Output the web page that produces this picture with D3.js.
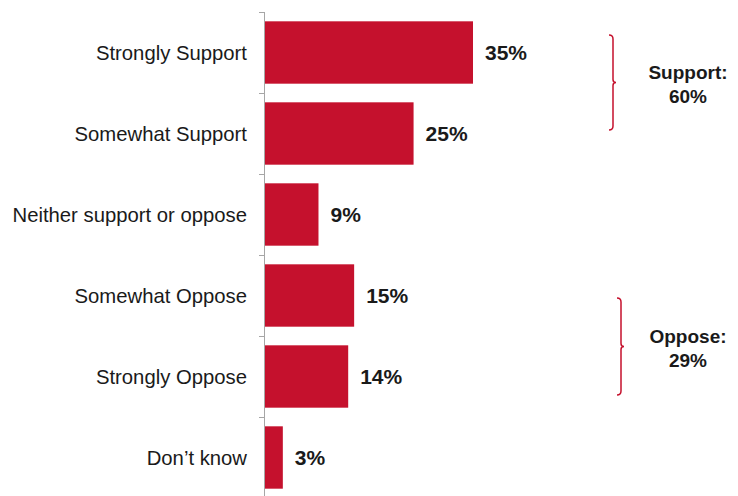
<!DOCTYPE html>
<head>
	<meta charset="utf-8">
	<title>Support / Oppose</title>
	<script src="https://d3js.org/d3.v7.min.js"></script>
	<style>
		body { margin: 0; background: #fff; }
	</style>
</head>
<body>
	<script type="text/javascript">
	var categories = ["Strongly Support", "Somewhat Support", "Neither support or oppose", "Somewhat Oppose", "Strongly Oppose", "Don\u2019t know"];
	var values = [35, 25, 9, 15, 14, 3];
	var groupLabels = ["Support:", "Oppose:"];
	var groupTotals = ["60%", "29%"];
	var groupFirst = ["Strongly Support", "Somewhat Oppose"];
	var groupLast = ["Somewhat Support", "Strongly Oppose"];

	var w = 738;
	var h = 496;
	var red = "#c5112d";

	var svg = d3.select("body")
		.append("svg")
		.attr("width", w)
		.attr("height", h);

	var y = d3.scaleBand()
		.domain(categories)
		.range([12, 498]);

	var x = d3.scaleLinear()
		.domain([0, 35])
		.range([265, 473]);

	var bw = y.bandwidth();

	// axis line + ticks at band edges
	svg.append("line")
		.attr("x1", 264.5).attr("x2", 264.5)
		.attr("y1", 12).attr("y2", h)
		.attr("stroke", "#a6a6a6");

	var edges = categories.map(function(c){ return y(c); });
	svg.selectAll("line.tick")
		.data(edges)
		.enter()
		.append("line")
		.attr("class", "tick")
		.attr("x1", 259).attr("x2", 264.5)
		.attr("y1", function(d){ return Math.round(d) + 0.5; })
		.attr("y2", function(d){ return Math.round(d) + 0.5; })
		.attr("stroke", "#a6a6a6");

	svg.selectAll("rect.bar")
		.data(values)
		.enter()
		.append("rect")
		.attr("class", "bar")
		.attr("x", x(0))
		.attr("y", function(d, i){ return y(categories[i]) + bw * 0.115; })
		.attr("width", function(d){ return x(d) - x(0); })
		.attr("height", bw * 0.77)
		.attr("fill", red);

	svg.selectAll("text.cat")
		.data(categories)
		.enter()
		.append("text")
		.attr("class", "cat")
		.text(function(d){ return d; })
		.attr("text-anchor", "end")
		.attr("x", 247)
		.attr("y", function(d){ return y(d) + bw / 2; })
		.attr("dy", "0.35em")
		.attr("font-family", "Liberation Sans, Arial, sans-serif")
		.attr("font-size", "20.3px")
		.attr("fill", "#1a1a1a");

	svg.selectAll("text.val")
		.data(values)
		.enter()
		.append("text")
		.attr("class", "val")
		.text(function(d){ return d + "%"; })
		.attr("x", function(d){ return x(d) + 12; })
		.attr("y", function(d, i){ return y(categories[i]) + bw / 2; })
		.attr("dy", "0.35em")
		.attr("font-family", "Liberation Sans, Arial, sans-serif")
		.attr("font-weight", "bold")
		.attr("font-size", "21px")
		.attr("fill", "#1a1a1a");

	// braces on the right
	var braceX = [613, 621];
	var braceTop = [23, 43];
	var braceBot = [44, 22];
	var textY = [79, 343];

	groupLabels.forEach(function(g, i){
		var top = y(groupFirst[i]) + braceTop[i];
		var bot = y(groupLast[i]) + bw - braceBot[i];
		var mid = (top + bot) / 2;
		var bx = braceX[i];
		var p = d3.path();
		p.moveTo(bx - 4, top);
		p.quadraticCurveTo(bx, top, bx, top + 4);
		p.lineTo(bx, mid - 3);
		p.quadraticCurveTo(bx, mid, bx + 3, mid);
		p.quadraticCurveTo(bx, mid, bx, mid + 3);
		p.lineTo(bx, bot - 4);
		p.quadraticCurveTo(bx, bot, bx - 4, bot);
		svg.append("path")
			.attr("d", p.toString())
			.attr("fill", "none")
			.attr("stroke", red)
			.attr("stroke-width", 1.5);

		var t = svg.append("text")
			.attr("text-anchor", "middle")
			.attr("font-family", "Liberation Sans, Arial, sans-serif")
			.attr("font-weight", "bold")
			.attr("font-size", "19px")
			.attr("fill", "#1a1a1a");
		t.append("tspan").attr("x", 688).attr("y", textY[i]).text(g);
		t.append("tspan").attr("x", 688).attr("y", textY[i] + 24).text(groupTotals[i]);
	});
	</script>
</body>
